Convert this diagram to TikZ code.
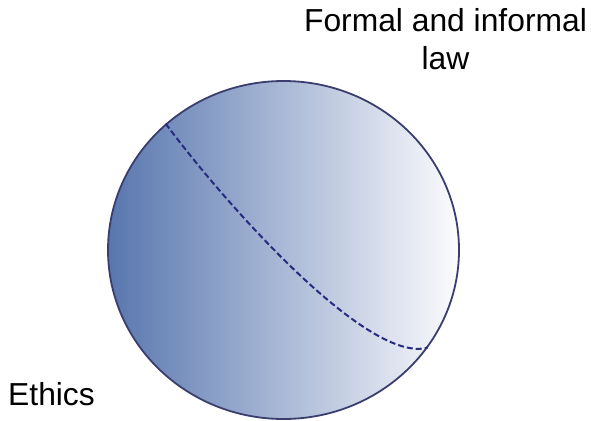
\documentclass[tikz,border=0pt]{standalone}
\usepackage{fontspec}
\setmainfont{Liberation Sans}
\usetikzlibrary{shapes.geometric}
\definecolor{globeleft}{RGB}{88,118,174}
\definecolor{globeright}{RGB}{252,252,254}
\definecolor{globeline}{RGB}{58,62,110}
\definecolor{splitline}{RGB}{40,44,128}
\begin{document}
\begin{tikzpicture}[x=1pt, y=-1pt,
    label/.style={inner sep=0pt, font=\fontsize{31.8}{38.3}\selectfont},
    globe/.style={ellipse, draw=globeline, line width=1.8pt, inner sep=0pt,
        left color=globeleft, right color=globeright},
    split/.style={draw=splitline, line width=2pt, dash pattern=on 6pt off 3pt}]
    \def\cx{283.5};
    \def\cy{250};
    \useasboundingbox (0,0) rectangle (591,420);
    \node[globe, minimum width=351pt, minimum height=338pt] at (\cx, \cy) (G) {};
    \node[label, align=center, anchor=base] at (445.5, 69.8) (L) {Formal and informal\\law};
    \node[label, anchor=base west] at (8, 405) (E) {Ethics};
    \path[split] (G.133) .. controls (230,210) and (370,365) .. (G.-34.6);
\end{tikzpicture}
\end{document}
